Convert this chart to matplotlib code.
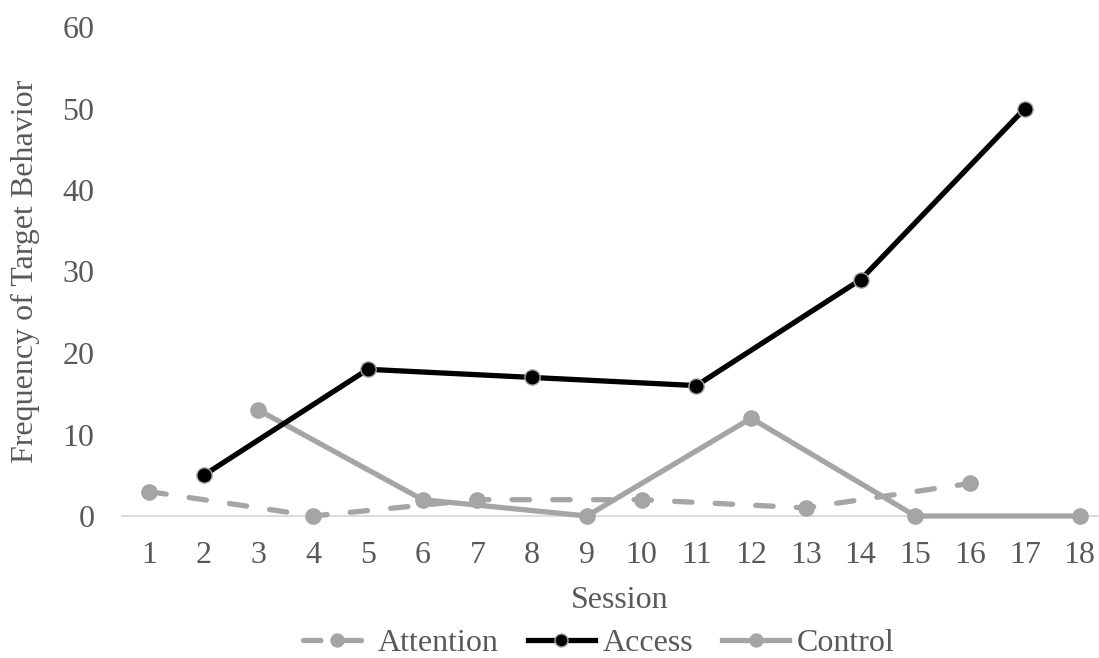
import matplotlib
matplotlib.use('Agg')
import matplotlib.pyplot as plt

sessions = list(range(1, 19))
attention_x = [1, 4, 7, 10, 13, 16]
attention_y = [3, 0, 2, 2, 1, 4]
access_x = [2, 5, 8, 11, 14, 17]
access_y = [5, 18, 17, 16, 29, 50]
control_x = [3, 6, 9, 12, 15, 18]
control_y = [13, 2, 0, 12, 0, 0]
y_ticks = [0, 10, 20, 30, 40, 50, 60]

TEXT = '#595959'
GRAY = '#a5a5a5'
FS = 23

plt.rcParams['font.family'] = ['Liberation Serif', 'DejaVu Serif']

fig = plt.figure(figsize=(10.99, 6.58), dpi=100)
W, H = 1099, 658
left, right = 121.6, 1107.0
top, bottom = 27.0, 516.0
ax = fig.add_axes([left / W, 1 - bottom / H, (right - left) / W, (bottom - top) / H])

ax.plot(attention_x, attention_y, color=GRAY, lw=3.8, ls=(0, (3.3, 4.4)),
        dash_capstyle='round', marker='o', ms=11, mfc=GRAY, mec=GRAY,
        label='Attention', zorder=3, clip_on=False)
ax.plot(access_x, access_y, color='black', lw=3.8,
        marker='o', ms=11, mfc='black', mec=GRAY, mew=1, label='Access',
        zorder=4, clip_on=False)
ax.plot(control_x, control_y, color=GRAY, lw=3.8,
        marker='o', ms=11, mfc=GRAY, mec=GRAY, label='Control',
        zorder=3, clip_on=False)

ax.set_xlim(0.5, 18.5)
ax.set_ylim(0, 60)
ax.set_xticks(sessions)
ax.set_yticks(y_ticks)
ax.tick_params(length=0, labelsize=FS, colors=TEXT)
ax.tick_params(axis='x', pad=18)
ax.tick_params(axis='y', pad=19.5)
for s in ['top', 'right', 'left']:
    ax.spines[s].set_visible(False)
ax.spines['bottom'].set_color('#d9d9d9')
ax.spines['bottom'].set_linewidth(1.3)
ax.spines['bottom'].set_zorder(1)

ax.set_xlabel('Session', fontsize=FS, color=TEXT, labelpad=12)
ax.set_ylabel('Frequency of Target Behavior', fontsize=FS, color=TEXT)
ax.yaxis.set_label_coords(-(left - 40) / (right - left), 0.5)
ax.xaxis.set_label_coords((620 - left) / (right - left), -(600 - bottom) / (bottom - top))
ax.xaxis.label.set_va('center')

leg = fig.legend(loc='center', bbox_to_anchor=(599 / W, 1 - 643 / H), ncol=3, frameon=False,
                 fontsize=FS, handlelength=2.1, handletextpad=0.25, columnspacing=0.9,
                 borderpad=0, markerscale=0.85)
for t in leg.get_texts():
    t.set_color(TEXT)

fig.savefig('out.png', dpi=100)
